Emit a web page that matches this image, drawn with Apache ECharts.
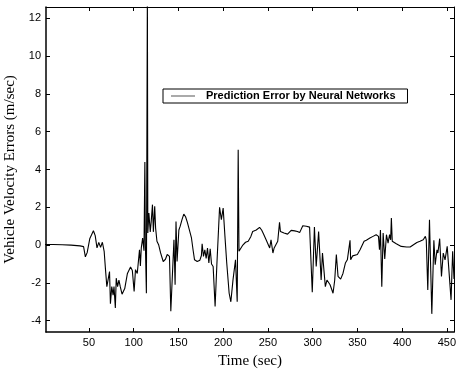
<!DOCTYPE html>
<html>
<head>
<meta charset="utf-8">
<script src="https://cdn.jsdelivr.net/npm/echarts@6/dist/echarts.min.js"></script>
<style>
  html, body { margin: 0; padding: 0; background: #fff; }
  #chart { width: 464px; height: 371px; }
</style>
</head>
<body>
<div id="chart"></div>
<script>
// time stamps (sec) and prediction error (m/sec)
var timeSec = [1, 10, 20, 30, 40, 44, 46, 48, 51, 55, 57, 59, 61, 63, 65, 67, 68.5, 70, 72, 73,
	74, 75.5, 77, 78, 79.5, 80.5, 82, 83.5, 85, 87, 90, 93, 96.5, 98.5, 100.5, 102, 104, 105.5, 106.5, 107.5,
	108.5, 110, 111.5, 112.5, 113, 114.2, 115.3, 115.8, 117, 118.5, 119.5, 121, 122, 123.5, 124.5, 126, 128, 130, 133, 135.5,
	137.5, 140, 141.5, 142.3, 143.7, 145, 146.3, 147.3, 148.5, 150.5, 152, 154, 156, 158, 160, 162, 164.5, 166.5, 168, 171,
	174, 175.7, 176.5, 178, 179.5, 181, 182.5, 184, 185.5, 187, 188.8, 191, 193, 196, 198, 200, 202, 204, 206.7, 208.6,
	211, 213.8, 215.7, 216.8, 217.7, 219.4, 222, 225, 228, 231, 233, 235, 237, 240.7, 243, 245, 248, 252, 253.5, 255.6,
	257, 261, 263, 264, 268, 272, 276, 280, 283, 285.5, 289, 293, 296.6, 299.6, 302, 304, 306.7, 309.5, 311, 313,
	314.2, 316, 317.5, 319.5, 322.8, 324.7, 326.5, 328.4, 331.3, 333.9, 336.6, 338.8, 340.3, 341.8, 342.5, 344.8, 347, 350, 353, 357.5,
	360, 364, 367.5, 371, 373.6, 374.7, 375.8, 377.3, 378.8, 380.6, 382.5, 384.3, 386, 387.2, 388, 389, 393.5, 399, 405, 409,
	412.7, 414.5, 416.5, 420, 423.6, 426, 427, 428.7, 430.6, 433.2, 435.5, 437, 439, 440, 442, 444, 446, 448, 450.4, 452.6,
	454.7, 456.5, 458];
var velErr = [0.03, 0.03, 0.02, 0.0, -0.04, -0.08, -0.62, -0.4, 0.35, 0.76, 0.5, -0.15, 0.14, -0.12, 0.15, -0.33, -1.3, -2.2, -2.2, -1.4,
	-3.1, -2.2, -2.65, -2.2, -3.33, -1.75, -2.2, -1.85, -2.2, -2.6, -2.3, -1.5, -1.16, -1.35, -2.45, -1.3, -1.5, -1.4, -0.25, -1.1,
	-0.15, 0.37, -0.3, 4.4, 0.2, -2.55, 13.5, 0.64, 1.7, 0.7, 1.2, 2.14, 0.7, 2.05, 0.9, 0.2, 0.0, -0.4, -0.87, -0.75,
	-0.5, -0.6, -3.5, -3.55, -3.6, 0.28, -2.1, 1.25, -0.87, 0.8, 1.0, 1.35, 1.64, 1.5, 1.2, 0.85, 0.4, -0.3, -0.78, -0.87,
	-0.8, -0.55, 0.07, -0.6, -0.25, -0.7, -0.16, -0.95, -0.2, -1.0, -1.13, -3.25, -1.0, 2.0, 1.35, 1.96, 0.46, -0.95, -2.55, -3.0,
	-1.84, -0.78, -3.0, 5.05, -0.33, -0.25, 0.0, 0.15, 0.2, 0.46, 0.72, 0.65, 0.8, 0.94, 0.8, 0.6, 0.28, -0.15, 0.28, -0.42,
	-0.15, 0.2, 1.2, 0.72, 0.64, 0.58, 0.78, 0.75, 0.72, 0.66, 1.02, 1.0, 0.95, -2.5, 0.95, -1.13, 0.72, -1.84, -0.42, -0.33,
	-2.2, -1.85, -1.87, -2.1, -2.55, -1.85, -0.5, -1.66, -1.8, -1.5, -0.95, -0.78, -0.78, 0.25, -0.78, -0.57, -0.64, -0.5, -0.25, 0.2,
	0.26, 0.37, 0.46, 0.55, 0.46, -0.25, 0.8, -2.2, 0.64, -0.74, 0.55, 0.1, 0.55, 0.28, 1.43, 0.2, 0.07, -0.07, -0.1, -0.1,
	0.02, -0.07, 0.14, 0.2, 0.28, 0.46, 0.28, -2.37, 1.34, -3.64, 0.25, -1.04, -0.25, -0.42, 0.34, -1.66, -0.42, -0.78, -0.07, -0.05,
	-2.9, -0.33, -1.8];

var xTicks = [50, 100, 150, 200, 250, 300, 350, 400, 450];
var yTicks = [-4, -2, 0, 2, 4, 6, 8, 10, 12];

var seriesName = "Prediction Error by Neural Networks";

var points = [];
for (var i = 0; i < timeSec.length; i++) {
	points.push([timeSec[i], velErr[i]]);
}

var labelFont = "'Liberation Sans', Arial, sans-serif";
var titleFont = "'Liberation Serif', 'Times New Roman', serif";

function mirrorAxis(base, extra) {
	var ax = {
		type: "value",
		min: base.min,
		max: base.max,
		axisLine: { show: true, onZero: false, lineStyle: { color: "#000", width: 1 } },
		axisTick: { show: true, inside: true, length: 4, customValues: base.ticks, lineStyle: { color: "#000" } },
		axisLabel: { show: false },
		splitLine: { show: false }
	};
	for (var k in extra) ax[k] = extra[k];
	return ax;
}

var myChart = echarts.init(document.getElementById("chart"), null, { renderer: "canvas" });
var options = {
	animation: false,
	backgroundColor: "#fff",
	grid: { left: 46, top: 7, right: 10, bottom: 39, containLabel: false, outerBoundsMode: "none" },
	legend: {
		data: [{ name: seriesName, icon: "rect" }],
		left: 163,
		top: 89,
		padding: [1, 12, 1, 8],
		borderColor: "#000",
		borderWidth: 1,
		itemWidth: 24,
		itemHeight: 1,
		itemStyle: { color: "#555" },
		textStyle: {
			fontFamily: labelFont,
			fontWeight: "bold",
			fontSize: 11,
			lineHeight: 12,
			color: "#000",
			padding: [0, 0, 0, 6]
		}
	},
	xAxis: [{
		type: "value",
		min: 2,
		max: 458,
		name: "Time (sec)",
		nameLocation: "middle",
		nameGap: 22,
		nameTextStyle: { fontFamily: titleFont, fontSize: 15, color: "#000" },
		axisLine: { show: true, onZero: false, lineStyle: { color: "#000", width: 1.5 } },
		axisTick: { show: true, inside: true, length: 4, customValues: xTicks, lineStyle: { color: "#000" } },
		axisLabel: { customValues: xTicks, margin: 5, fontFamily: labelFont, fontSize: 11, color: "#000" },
		splitLine: { show: false }
	}, mirrorAxis({ min: 2, max: 458, ticks: xTicks }, { position: "top" })],
	yAxis: [{
		type: "value",
		min: -4.6,
		max: 12.6,
		name: "Vehicle Velocity Errors (m/sec)",
		nameLocation: "middle",
		nameGap: 20,
		nameTextStyle: { fontFamily: titleFont, fontSize: 15, color: "#000" },
		axisLine: { show: true, onZero: false, lineStyle: { color: "#000", width: 1.5 } },
		axisTick: { show: true, inside: true, length: 4, customValues: yTicks, lineStyle: { color: "#000" } },
		axisLabel: { customValues: yTicks, margin: 5, fontFamily: labelFont, fontSize: 11, color: "#000" },
		splitLine: { show: false }
	}, mirrorAxis({ min: -4.6, max: 12.6, ticks: yTicks }, { position: "right" })],
	series: [{
		name: seriesName,
		type: "line",
		xAxisIndex: 0,
		yAxisIndex: 0,
		data: points,
		symbol: "none",
		clip: true,
		lineStyle: { color: "#000", width: 1.1 },
		itemStyle: { color: "#000" }
	}]
};
myChart.setOption(options);
</script>
</body>
</html>
